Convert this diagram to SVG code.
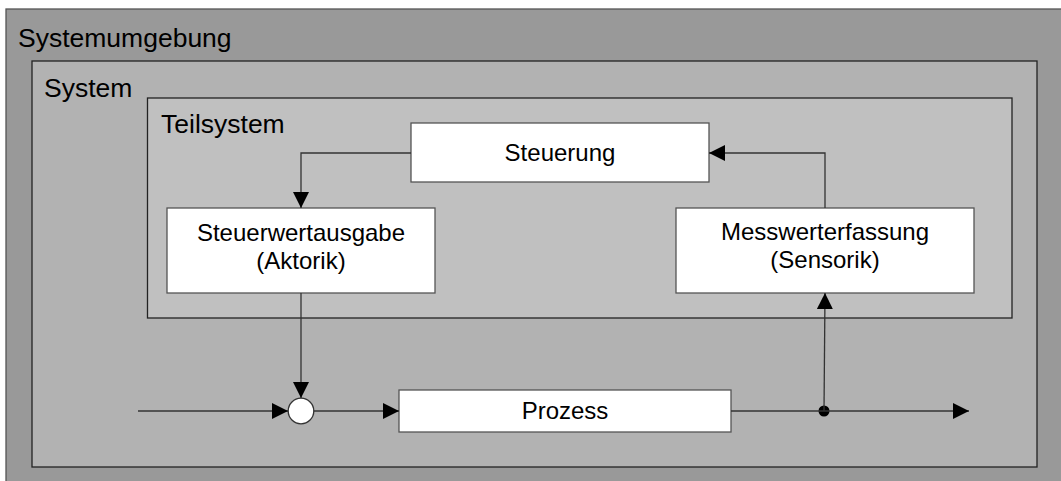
<svg xmlns="http://www.w3.org/2000/svg" width="1061" height="481" viewBox="0 0 1061 481">
<defs>
<marker id="arr" viewBox="0 0 16 16" refX="16" refY="8" markerWidth="16" markerHeight="16" markerUnits="userSpaceOnUse" orient="auto">
<path d="M0,0 L16,8 L0,16 Z" fill="#000"/>
</marker>
</defs>
<style>
.lbl{font-family:"Liberation Sans",Arial,sans-serif;font-size:26.5px;fill:#000}
.txt{font-family:"Liberation Sans",Arial,sans-serif;font-size:24px;fill:#000;text-anchor:middle}
.box{fill:#fff;stroke:#555;stroke-width:1.3}
.con{fill:none;stroke:#333;stroke-width:1.3}
</style>
<rect width="1061" height="481" fill="#fff"/>
<g id="systemumgebung">
<rect x="6" y="9" width="1062" height="480" fill="#999999" stroke="#555" stroke-width="1.3"/>
<text class="lbl" x="18" y="47">Systemumgebung</text>
</g>
<g id="system">
<rect x="32" y="61" width="1005" height="406" fill="#b2b2b2" stroke="#222" stroke-width="1.3"/>
<text class="lbl" x="44" y="97">System</text>
</g>
<g id="teilsystem">
<rect x="147.5" y="98" width="864.5" height="220" fill="#c0c0c0" stroke="#222" stroke-width="1.3"/>
<text class="lbl" x="161" y="133">Teilsystem</text>
</g>
<g id="steuerung">
<rect class="box" x="411" y="123" width="298" height="59"/>
<text class="txt" x="560" y="161">Steuerung</text>
</g>
<g id="steuerwertausgabe">
<rect class="box" x="167" y="208" width="268" height="85"/>
<text class="txt" x="301" y="241">Steuerwertausgabe</text>
<text class="txt" x="301" y="269">(Aktorik)</text>
</g>
<g id="messwerterfassung">
<rect class="box" x="676" y="208" width="298" height="85"/>
<text class="txt" x="825" y="240">Messwerterfassung</text>
<text class="txt" x="825" y="268">(Sensorik)</text>
</g>
<g id="prozess">
<rect class="box" x="399" y="390" width="332" height="42"/>
<text class="txt" x="565" y="419">Prozess</text>
</g>
<g id="summationspunkt">
<circle cx="301" cy="411" r="12.8" fill="#fff" stroke="#333" stroke-width="1.3"/>
</g>
<g id="verzweigung">
<circle cx="824" cy="411" r="5.5" fill="#000"/>
</g>
<g id="connectors">
<path class="con" d="M411,153 H301 V208" marker-end="url(#arr)"/>
<path class="con" d="M301,293 V398" marker-end="url(#arr)"/>
<path class="con" d="M138,411 H288" marker-end="url(#arr)"/>
<path class="con" d="M313.8,411 H399" marker-end="url(#arr)"/>
<path class="con" d="M731,411 H969" marker-end="url(#arr)"/>
<path class="con" d="M824,411 L825,293" marker-end="url(#arr)"/>
<path class="con" d="M825,208 V153 H709" marker-end="url(#arr)"/>
</g>
</svg>
